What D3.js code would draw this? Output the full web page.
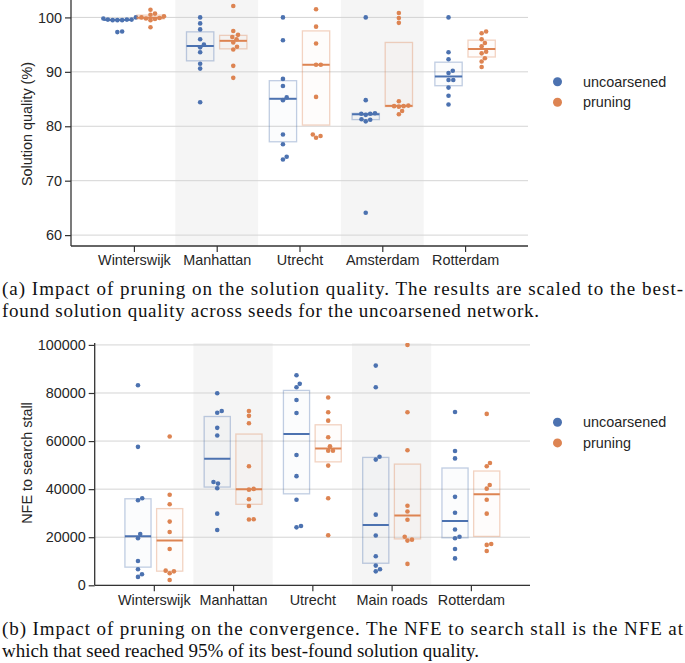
<!DOCTYPE html>
<html>
<head>
<meta charset="utf-8">
<script src="https://cdn.jsdelivr.net/npm/d3@7"></script>
<style>
  body { margin: 0; background: #fff; }
  text { font-family: "Liberation Sans", Arial, sans-serif; fill: #262626; }
  .caption { font-family: "Liberation Serif", "Times New Roman", serif; font-size: 19px; fill: #111; }
</style>
</head>
<body>
<svg id="chart" width="685" height="663"></svg>
<script>
// solution quality (%) per network, 10 seeds each
const qualityCats = ["Winterswijk", "Manhattan", "Utrecht", "Amsterdam", "Rotterdam"];
const qualityUncoarsened = [
  [99.8, 99.6, 99.5, 99.5, 99.5, 99.6, 99.6, 100.0, 97.4, 97.3],
  [100, 98.9, 97.8, 96.0, 95.0, 94.5, 93.6, 91.5, 90.6, 84.4],
  [100, 95.8, 88.7, 87.4, 85.3, 84.8, 78.5, 76.7, 74.4, 73.9],
  [100, 84.8, 82.4, 82.3, 82.1, 82.3, 81.3, 80.9, 81.2, 64.1],
  [100, 93.6, 92.3, 90.2, 89.8, 88.5, 88.5, 87.1, 85.6, 84.0]
];
const qualityPruning = [
  [101.4, 100.7, 100.5, 100.2, 100.0, 99.9, 99.8, 99.7, 99.5, 98.2],
  [102.1, 97.5, 96.8, 96.4, 96.0, 95.4, 94.6, 94.1, 91.1, 88.9],
  [104.5, 101.5, 98.3, 95.2, 91.3, 91.3, 85.4, 78.5, 78.2, 77.9],
  [100.8, 99.9, 99.0, 84.6, 83.7, 83.7, 83.8, 83.6, 82.8, 82.2],
  [97.4, 97.1, 96.0, 95.3, 94.7, 93.7, 93.4, 92.5, 91.9, 90.9]
];
const qualityTicks = [60, 70, 80, 90, 100];

// NFE to search stall
const nfeCats = ["Winterswijk", "Manhattan", "Utrecht", "Main roads", "Rotterdam"];
const nfeUncoarsened = [
  [83200, 57600, 36200, 35400, 21300, 19600, 10100, 6700, 4600, 3500],
  [79900, 72500, 71800, 65500, 62300, 43000, 42300, 40400, 29800, 23000],
  [87400, 83800, 82400, 77100, 71700, 54200, 45400, 35600, 24700, 24100],
  [91400, 82400, 53500, 52300, 29400, 20700, 12100, 8200, 6700, 5800],
  [72100, 55900, 52800, 36800, 30200, 23200, 20200, 19600, 15100, 11200]
];
const nfePruning = [
  [61900, 37700, 33700, 26500, 22200, 15100, 6100, 5800, 5000, 2200],
  [72500, 70500, 67400, 49500, 40100, 39800, 35800, 33000, 27500, 27400],
  [78100, 72000, 68500, 61600, 57800, 56000, 56000, 49800, 36200, 20800],
  [100000, 72000, 56200, 33100, 30700, 27300, 20200, 19000, 18600, 8900],
  [71300, 50900, 49500, 41700, 40200, 35600, 29800, 17200, 16800, 14300]
];
const nfeTicks = [0, 20000, 40000, 60000, 80000, 100000];

const seriesNames = ["uncoarsened", "pruning"];
const colors = ["#4c72b0", "#dd8452"];

const svg = d3.select("#chart");
const r = 2.3;

// simple beeswarm: place points by value, nearest free offset from centre
function swarm(vals, y, cx) {
  const pts = vals.map(v => ({ v: v, y: y(v) })).sort((a, b) => b.y - a.y);
  const placed = [];
  pts.forEach(p => {
    for (let k = 0; k < 200; k++) {
      const off = (k % 2 ? 1 : -1) * Math.ceil(k / 2) * 0.25;
      const x = cx + off;
      const ok = placed.every(q => (q.x - x) ** 2 + (q.y - p.y) ** 2 >= (2 * r) ** 2);
      if (ok) { p.x = x; break; }
    }
    placed.push(p);
  });
  return placed;
}

function drawPanel(opts) {
  const { id, cats, series, ticks, left, right, top, bottom, domain, pad, legendY, ylabel, labelY, tickFormat } = opts;
  const g = svg.append("g");

  const x = d3.scalePoint().domain(cats).range([left, right]).padding(pad);
  const y = d3.scaleLinear().domain(domain).range([bottom, top]);
  const step = x.step();

  svg.append("defs").append("clipPath").attr("id", id)
    .append("rect").attr("x", left).attr("y", top).attr("width", right - left).attr("height", bottom - top);

  // shaded bands behind every second category
  g.selectAll("rect.band")
    .data(cats.filter((d, i) => i % 2 === 1))
    .enter().append("rect")
    .attr("x", d => x(d) - step / 2)
    .attr("y", top)
    .attr("width", step)
    .attr("height", bottom - top)
    .attr("fill", "#f5f5f5");

  // grid
  g.selectAll("line.grid")
    .data(ticks)
    .enter().append("line")
    .attr("x1", left).attr("x2", right)
    .attr("y1", d => y(d)).attr("y2", d => y(d))
    .attr("stroke", "#d4d4d4").attr("stroke-width", 1);

  const plot = g.append("g").attr("clip-path", `url(#${id})`);
  const boxW = step * 0.33;

  series.forEach((data, s) => {
    const shift = (s === 0 ? -1 : 1) * step * 0.2;
    data.forEach((vals, i) => {
      const cx = x(cats[i]) + shift;
      const sorted = vals.slice().sort(d3.ascending);
      const q1 = d3.quantile(sorted, 0.25);
      const med = d3.quantile(sorted, 0.5);
      const q3 = d3.quantile(sorted, 0.75);

      plot.append("rect")
        .attr("x", cx - boxW / 2)
        .attr("y", y(q3))
        .attr("width", boxW)
        .attr("height", Math.max(0.5, y(q1) - y(q3)))
        .attr("fill", colors[s]).attr("fill-opacity", 0.025)
        .attr("stroke", colors[s]).attr("stroke-opacity", 0.35)
        .attr("stroke-width", 1.3);

      plot.append("line")
        .attr("x1", cx - boxW / 2).attr("x2", cx + boxW / 2)
        .attr("y1", y(med)).attr("y2", y(med))
        .attr("stroke", colors[s]).attr("stroke-width", 2);

      plot.selectAll(null)
        .data(swarm(vals, y, cx))
        .enter().append("circle")
        .attr("cx", d => d.x)
        .attr("cy", d => d.y)
        .attr("r", r)
        .attr("fill", colors[s]);
    });
  });

  // axes
  const yAxis = d3.axisLeft(y).tickValues(ticks).tickSize(6).tickPadding(3)
    .tickFormat(tickFormat);
  const ya = g.append("g").attr("transform", `translate(${left},0)`).call(yAxis);
  const xa = g.append("g").attr("transform", `translate(0,${bottom})`)
    .call(d3.axisBottom(x).tickSize(6).tickPadding(3));
  [ya, xa].forEach(a => {
    a.select(".domain").attr("stroke", "#333").attr("stroke-width", 1.3);
    a.selectAll(".tick line").attr("stroke", "#333").attr("stroke-width", 1.2);
    a.selectAll("text").attr("font-size", "14.4px").attr("fill", "#262626")
      .attr("font-family", "Liberation Sans, Arial, sans-serif");
  });
  ya.select(".domain").attr("d", `M-0,${bottom}V${top}`);
  xa.select(".domain").attr("d", `M${left},0H${right}`);

  g.append("text")
    .attr("transform", `translate(27,${labelY}) rotate(-90)`)
    .attr("text-anchor", "middle")
    .attr("dy", "0.35em")
    .attr("font-size", "14.4px")
    .text(ylabel);

  // legend
  const lg = g.append("g");
  seriesNames.forEach((n, i) => {
    lg.append("circle").attr("cx", 557.5).attr("cy", legendY + i * 20.6)
      .attr("r", 4.5).attr("fill", colors[i]);
    lg.append("text").attr("x", 583).attr("y", legendY + i * 20.6)
      .attr("dy", "0.35em").attr("font-size", "14.4px").text(n);
  });
}

drawPanel({
  id: "clipA", cats: qualityCats, series: [qualityUncoarsened, qualityPruning],
  ticks: qualityTicks, left: 71, right: 528, top: 0, bottom: 246,
  domain: [58, 103.2], pad: 0.76, legendY: 81.7,
  ylabel: "Solution quality (%)", labelY: 124, tickFormat: d3.format("d")
});

drawPanel({
  id: "clipB", cats: nfeCats, series: [nfeUncoarsened, nfePruning],
  ticks: nfeTicks, left: 94.7, right: 530, top: 343, bottom: 585.3,
  domain: [0, 100800], pad: 0.746, legendY: 422.3,
  ylabel: "NFE to search stall", labelY: 463, tickFormat: d3.format("d")
});

// captions
const captions = [
  { t: "(a) Impact of pruning on the solution quality. The results are scaled to the best-", y: 295, w: 681 },
  { t: "found solution quality across seeds for the uncoarsened network.", y: 317, w: 537 },
  { t: "(b) Impact of pruning on the convergence. The NFE to search stall is the NFE at", y: 635, w: 681 },
  { t: "which that seed reached 95% of its best-found solution quality.", y: 657, w: 477 }
];
svg.selectAll("text.caption")
  .data(captions)
  .enter().append("text")
  .attr("class", "caption")
  .attr("x", 2)
  .attr("y", d => d.y)
  .attr("textLength", d => d.w)
  .attr("lengthAdjust", "spacing")
  .text(d => d.t);
</script>
</body>
</html>
